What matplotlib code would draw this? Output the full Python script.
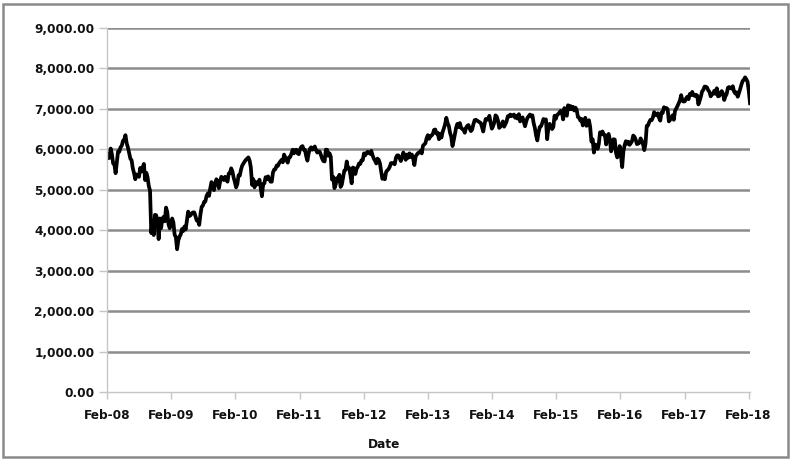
import matplotlib
matplotlib.use("Agg")
import matplotlib.pyplot as plt
import matplotlib.dates as mdates
from matplotlib.patches import Rectangle
from matplotlib.ticker import FuncFormatter
import pandas as pd

# weekly closes (Feb 2008 - Feb 2018)
y2008 = [5880, 5780, 5790, 6020, 5880, 5650, 5630, 5410, 5690, 5950, 5940, 6050, 6090,
         6210, 6240, 6350, 6150, 6050, 5910, 5770, 5730, 5530, 5410, 5260, 5380, 5350,
         5320, 5540, 5450, 5550, 5640, 5240, 5420, 5310, 5090, 4980, 3930, 4230, 3880,
         4380, 4370, 4230, 3780, 4290, 4050, 4280, 4330, 4220, 4560, 4450, 4150, 4050]
y2009 = [4150, 4290, 4190, 3890, 3830, 3530, 3750, 3840, 3900, 4030, 3980, 4090, 4020,
         4240, 4460, 4350, 4370, 4420, 4440, 4440, 4340, 4240, 4250, 4130, 4390, 4580,
         4610, 4700, 4710, 4850, 4910, 4850, 5040, 5190, 5120, 4990, 5160, 5260, 5200,
         5040, 5200, 5320, 5290, 5240, 5320, 5260, 5200, 5400, 5410, 5530, 5460, 5300, 5190]
y2010 = [5060, 5140, 5360, 5350, 5500, 5600, 5650, 5700, 5740, 5770, 5800, 5720, 5550,
         5120, 5260, 5060, 5190, 5130, 5160, 5250, 5050, 4840, 5140, 5160, 5310, 5260,
         5330, 5270, 5200, 5200, 5430, 5500, 5510, 5600, 5590, 5660, 5700, 5740, 5680,
         5870, 5800, 5730, 5670, 5800, 5810, 5890, 5990, 5900, 5980, 5990, 5900, 5880]
y2011 = [6000, 6060, 6080, 5990, 5990, 5830, 5720, 5900, 6010, 6050, 5990, 6020, 6070,
         5980, 5920, 5950, 5940, 5860, 5770, 5710, 5700, 5990, 5990, 5840, 5900, 5820,
         5250, 5320, 5040, 5130, 5290, 5210, 5370, 5070, 5130, 5300, 5470, 5490, 5700,
         5530, 5540, 5360, 5160, 5550, 5530, 5390, 5520, 5570, 5650, 5640, 5730, 5730]
y2012 = [5900, 5850, 5910, 5940, 5910, 5890, 5960, 5850, 5770, 5720, 5650, 5770, 5740,
         5650, 5450, 5270, 5350, 5260, 5440, 5480, 5510, 5570, 5660, 5660, 5650, 5630,
         5790, 5850, 5850, 5780, 5710, 5800, 5920, 5850, 5740, 5870, 5790, 5900, 5810,
         5870, 5770, 5610, 5820, 5870, 5910, 5920, 5960, 5900, 6090, 6120, 6150, 6280]
y2013 = [6350, 6260, 6330, 6340, 6380, 6480, 6490, 6390, 6410, 6250, 6380, 6290, 6430,
         6520, 6620, 6780, 6650, 6580, 6410, 6310, 6080, 6220, 6380, 6540, 6630, 6550,
         6650, 6530, 6500, 6490, 6410, 6530, 6580, 6600, 6510, 6450, 6490, 6620, 6720,
         6730, 6710, 6690, 6670, 6650, 6550, 6440, 6610, 6750, 6730, 6740, 6830, 6660, 6510]
y2014 = [6570, 6660, 6840, 6810, 6710, 6530, 6560, 6620, 6690, 6560, 6620, 6690, 6820,
         6810, 6860, 6820, 6840, 6860, 6780, 6830, 6760, 6870, 6690, 6750, 6790, 6680,
         6570, 6690, 6780, 6820, 6860, 6810, 6840, 6650, 6530, 6340, 6220, 6420, 6550,
         6570, 6650, 6750, 6720, 6740, 6250, 6540, 6630, 6550, 6500, 6550, 6830, 6750]
y2015 = [6850, 6870, 6910, 6950, 6910, 6740, 7020, 6860, 6830, 7090, 6990, 7070, 6990,
         7050, 6960, 7030, 6980, 6800, 6780, 6710, 6750, 6590, 6670, 6780, 6580, 6700,
         6720, 6550, 6190, 6250, 5920, 6120, 6100, 6010, 6130, 6420, 6380, 6440, 6360,
         6350, 6120, 6330, 6380, 6240, 5950, 6050, 6250, 6240, 5910, 5800, 5900, 6080]
y2016 = [5850, 5560, 5950, 6100, 6200, 6140, 6190, 6110, 6150, 6200, 6340, 6310, 6240,
         6130, 6140, 6160, 6270, 6210, 6120, 5980, 6140, 6580, 6590, 6670, 6730, 6720,
         6790, 6920, 6860, 6840, 6890, 6780, 6710, 6910, 6900, 7040, 7010, 7020, 6990,
         6690, 6730, 6780, 6840, 6730, 6950, 7010, 7070, 7140, 7210, 7340, 7200, 7180]
y2017 = [7190, 7260, 7300, 7240, 7370, 7340, 7420, 7340, 7320, 7350, 7330, 7110, 7200,
         7300, 7430, 7470, 7550, 7550, 7530, 7460, 7420, 7310, 7350, 7380, 7450, 7370,
         7510, 7310, 7320, 7400, 7440, 7380, 7220, 7310, 7370, 7520, 7540, 7520, 7500,
         7560, 7430, 7380, 7410, 7300, 7390, 7490, 7600, 7690, 7720, 7780, 7730, 7670,
         7440, 7140]

price = y2008 + y2009 + y2010 + y2011 + y2012 + y2013 + y2014 + y2015 + y2016 + y2017
dates = pd.date_range("2008-02-01", periods=len(price), freq="7D")
tick_dates = pd.date_range("2008-02-01", "2018-02-01", freq="12MS")
y_ticks = [0, 1000, 2000, 3000, 4000, 5000, 6000, 7000, 8000, 9000]

plt.rcParams["font.family"] = "DejaVu Sans"
plt.rcParams["font.weight"] = "bold"

fig = plt.figure(figsize=(7.92, 4.61), dpi=100)
ax = fig.add_axes([0.1351, 0.1497, 0.8119, 0.7896])

ax.plot(dates, price, color="black", lw=2.7, solid_joinstyle="round")

ax.set_ylim(0, 9000)
ax.set_xlim(dates[0], dates[-1])
ax.set_yticks(y_ticks)
ax.yaxis.set_major_formatter(FuncFormatter(lambda v, p: "{:,.2f}".format(v)))
ax.set_xticks(tick_dates)
ax.xaxis.set_major_formatter(mdates.DateFormatter("Feb-%y"))

for v in y_ticks[1:]:
    ax.axhline(v, color="#8c8c8c", lw=1.8, zorder=0)

for s in ["top", "right"]:
    ax.spines[s].set_visible(False)
for s in ["left", "bottom"]:
    ax.spines[s].set_color("#c6c6c6")
    ax.spines[s].set_linewidth(1.0)

ax.tick_params(axis="y", length=6, width=1.0, color="#c6c6c6", pad=3, labelsize=8.7)
ax.tick_params(axis="x", length=5, width=1.0, color="#c6c6c6", pad=7, labelsize=8.7)
for lab in ax.get_xticklabels() + ax.get_yticklabels():
    lab.set_fontweight("bold")
    lab.set_color("#111111")

fig.text(384 / 792, 1 - 444 / 461, "Date", ha="center", va="center",
         fontsize=8.7, fontweight="bold", color="#111111")

fig.patches.append(Rectangle((3 / 792, 4 / 461), 785 / 792, 453 / 461,
                             transform=fig.transFigure, fill=False,
                             edgecolor="#8a8a8a", lw=1.8))

fig.savefig("out.png", dpi=100)
